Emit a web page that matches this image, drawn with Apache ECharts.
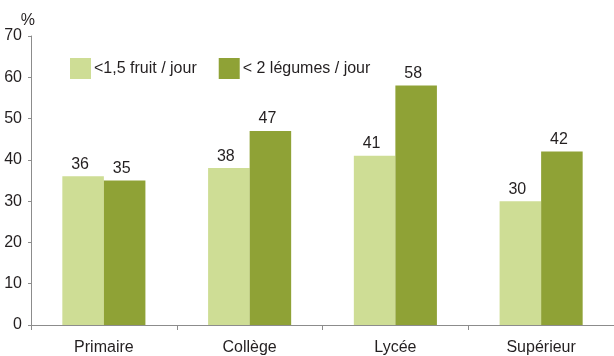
<!DOCTYPE html>
<html>
<head>
<meta charset="utf-8">
<script src="https://cdn.jsdelivr.net/npm/echarts@6/dist/echarts.min.js"></script>
<style>
  html, body { margin: 0; padding: 0; background: #fff; }
  #chart { width: 614px; height: 356px; }
</style>
</head>
<body>
<div id="chart"></div>
<script>
// Niveau d'études et consommation insuffisante de fruits et légumes (%)
const categories = ['Primaire', 'Collège', 'Lycée', 'Supérieur'];
const fruitValues = [36, 38, 41, 30];
const legumeValues = [35, 47, 58, 42];
const seriesNames = ['<1,5 fruit / jour', '< 2 légumes / jour'];
const yTicks = [0, 10, 20, 30, 40, 50, 60, 70];

const FONT = '"Liberation Sans Narrow", "Arial Narrow", "Liberation Sans", sans-serif';
const TEXT = '#231f20';
const AXIS = '#8c8c8c';
const LIGHT = '#cedd95';
const DARK = '#8fa236';

const chart = echarts.init(document.getElementById('chart'), null, { renderer: 'canvas' });

const valueLabel = {
  show: true,
  position: 'top',
  distance: 4,
  offset: [-3, 0],
  color: TEXT,
  fontFamily: FONT,
  fontSize: 16
};

chart.setOption({
  animation: false,
  backgroundColor: '#fff',
  grid: { left: 31, right: -5, top: 36, bottom: 26, containLabel: false },
  legend: {
    left: 70,
    top: 58,
    padding: 0,
    itemWidth: 21,
    itemHeight: 21,
    itemGap: 22,
    icon: 'rect',
    textStyle: { color: TEXT, fontFamily: FONT, fontSize: 16, padding: [0, 0, 0, -2] },
    data: seriesNames
  },
  xAxis: {
    type: 'category',
    data: categories,
    axisLine: { lineStyle: { color: AXIS, width: 1 } },
    axisTick: { show: true, length: 5, alignWithLabel: false, lineStyle: { color: AXIS } },
    axisLabel: { color: TEXT, fontFamily: FONT, fontSize: 16, margin: 15 }
  },
  yAxis: {
    type: 'value',
    min: yTicks[0],
    max: yTicks[yTicks.length - 1],
    interval: 10,
    name: '%',
    nameGap: 7,
    nameTextStyle: { color: TEXT, fontFamily: FONT, fontSize: 16, align: 'right', padding: [0, -4, 0, 0] },
    axisLine: { show: true, lineStyle: { color: AXIS, width: 1 } },
    axisTick: { show: true, length: 3, lineStyle: { color: AXIS } },
    axisLabel: { color: TEXT, fontFamily: FONT, fontSize: 16, margin: 9 },
    splitLine: { show: false }
  },
  series: [
    {
      name: seriesNames[0],
      type: 'bar',
      data: fruitValues,
      itemStyle: { color: LIGHT },
      barGap: '0%',
      barCategoryGap: '43%',
      label: valueLabel
    },
    {
      name: seriesNames[1],
      type: 'bar',
      data: legumeValues,
      itemStyle: { color: DARK },
      barGap: '0%',
      barCategoryGap: '43%',
      label: valueLabel
    }
  ]
});
</script>
</body>
</html>
